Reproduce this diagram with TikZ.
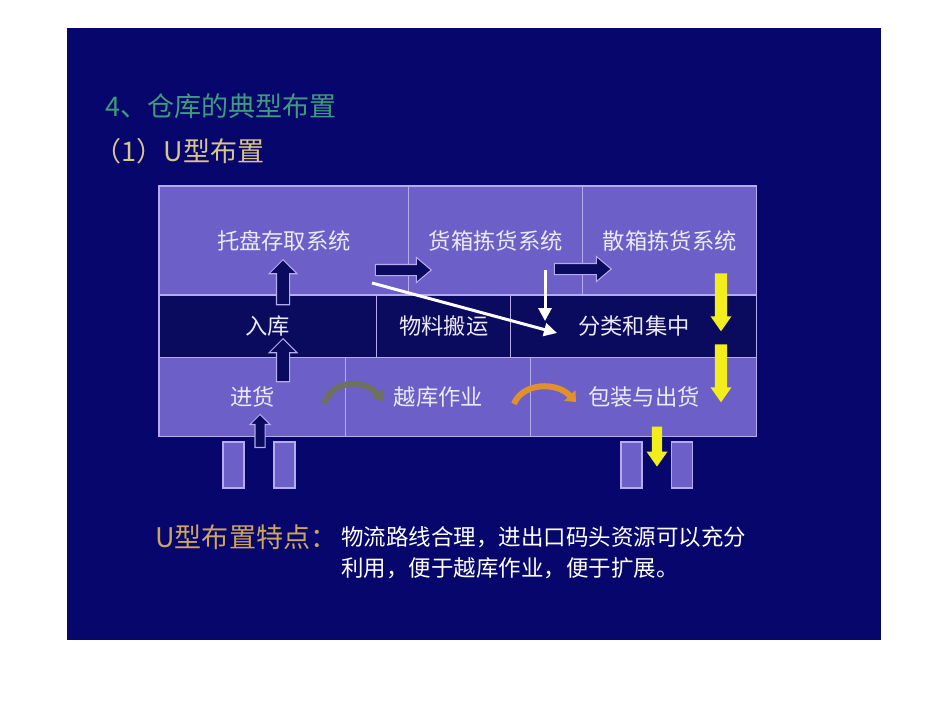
\documentclass[tikz,border=0pt]{standalone}
\usepackage{fontspec}
\setmainfont{Noto Sans CJK SC}
\usetikzlibrary{arrows.meta, positioning, shapes.arrows}
\definecolor{slide}{HTML}{06066C}
\definecolor{cellfill}{HTML}{6C5FC8}
\definecolor{cellline}{HTML}{B4ACEC}
\definecolor{darkrow}{HTML}{0A0A5E}
\definecolor{celltext}{HTML}{ECEAF6}
\definecolor{titlegreen}{HTML}{3E9C7C}
\definecolor{titlegold}{HTML}{D8C48C}
\definecolor{notegold}{HTML}{CCA65A}
\definecolor{flowyellow}{HTML}{F2EE1E}
\definecolor{crossgrey}{HTML}{6E7060}
\definecolor{packorange}{HTML}{E0902E}

\begin{document}
\begin{tikzpicture}[x=0.02cm, y=-0.02cm, >=Stealth, semithick,
        cell/.style={draw=cellline, fill=cellfill, text=celltext, line width=0.6pt,
            inner sep=0pt, outer sep=0pt, font=\fontsize{12.7}{15}\selectfont},
        darkcell/.style={cell, fill=darkrow},
        dock/.style={cell, minimum width=0.42cm, minimum height=0.92cm},
        navyup/.style={single arrow, draw=cellline, fill=darkrow, line width=0.6pt,
            inner sep=0.12cm, single arrow head extend=0.15cm, rotate=90},
        navyright/.style={single arrow, draw=cellline, fill=darkrow, line width=0.6pt,
            inner sep=0.1cm, single arrow head extend=0.14cm, single arrow tip angle=80},
        yellowdown/.style={single arrow, fill=flowyellow, inner sep=0.11cm,
            single arrow head extend=0.09cm, single arrow tip angle=70, rotate=-90},
        whiteflow/.style={white, line width=0.06cm, -{Triangle[width=0.26cm, length=0.26cm]}},
        hop/.style={line width=0.12cm, -{Triangle[width=0.3cm, length=0.18cm]}}]
            \fill[white] (0,0) rectangle (950,713);
            \fill[slide] (67,28) rectangle (881,640);
            \node[anchor=west, text=titlegreen, font=\fontsize{15.4}{18}\selectfont] (title) at (99,106) {4、仓库的典型布置};
            \node[anchor=west, text=titlegold, font=\fontsize{15.4}{18}\selectfont] (subtitle) at (88,151) {（1）U型布置};
            \node[cell, minimum width=5cm, minimum height=2.18cm, anchor=north west] (pallet) at (159,186) {托盘存取系统};
            \node[cell, minimum width=3.48cm, minimum height=2.18cm, right=0pt of pallet] (casepick) {货箱拣货系统};
            \node[cell, minimum width=3.48cm, minimum height=2.18cm, right=0pt of casepick] (piecepick) {散箱拣货系统};
            \node[darkcell, minimum width=4.36cm, minimum height=1.26cm, below right=0pt and 0pt of pallet.south west] (putaway) {入库};
            \node[darkcell, minimum width=2.68cm, minimum height=1.26cm, right=0pt of putaway] (handling) {物料搬运};
            \node[darkcell, minimum width=4.92cm, minimum height=1.26cm, right=0pt of handling] (sorting) {分类和集中};
            \node[cell, minimum width=3.74cm, minimum height=1.58cm, below right=0pt and 0pt of putaway.south west] (receive) {进货};
            \node[cell, minimum width=3.7cm, minimum height=1.58cm, right=0pt of receive] (crossdock) {越库作业};
            \node[cell, minimum width=4.52cm, minimum height=1.58cm, right=0pt of crossdock] (ship) {包装与出货};
            \node[dock] (indockA) at (233.5,465) {};
            \node[dock] (indockB) at (284.5,465) {};
            \node[dock] (outdockA) at (631.5,465) {};
            \node[dock] (outdockB) at (682,465) {};
            \node[navyup, minimum height=0.9cm] (upA) at (283,285.5) {};
            \node[navyup, minimum height=0.86cm] (upB) at (283,363.5) {};
            \node[navyup, minimum height=0.66cm, inner sep=0.09cm, single arrow head extend=0.1cm] (upC) at (260,433.5) {};
            \node[navyright, minimum height=1.12cm] (rightA) at (400,270) {};
            \node[navyright, minimum height=1.14cm] (rightB) at (579.5,269) {};
            \node[yellowdown, minimum height=1.16cm] (downA) at (721,298) {};
            \node[yellowdown, minimum height=1.16cm] (downB) at (721,369) {};
            \node[yellowdown, minimum height=0.8cm, inner sep=0.09cm, single arrow head extend=0.11cm] (downC) at (657,443) {};
            \coordinate (diagfrom) at (372,283);
            \coordinate (diagto) at (557,333);
            \coordinate (dropfrom) at (545,270);
            \coordinate (dropto) at (545,321);
            \draw[whiteflow] (diagfrom) -- (diagto);
            \draw[whiteflow] (dropfrom) -- (dropto);
            \coordinate (crossfrom) at (324,404);
            \coordinate (crossto) at (383,401);
            \coordinate (packfrom) at (514,404);
            \coordinate (packto) at (576,402);
            \draw[hop, crossgrey] (crossfrom) .. controls (332,380) and (364,378) .. (crossto);
            \draw[hop, packorange] (packfrom) .. controls (522,383) and (556,381) .. (packto);
            \node[anchor=west, text=notegold, font=\fontsize{15.4}{18}\selectfont] (notehead) at (149,537) {U型布置特点：};
            \node[anchor=west, text=white, font=\fontsize{12.8}{15}\selectfont] (noteA) at (335,537) {物流路线合理，进出口码头资源可以充分};
            \node[anchor=west, text=white, font=\fontsize{12.8}{15}\selectfont] (noteB) at (335,568) {利用，便于越库作业，便于扩展。};
        \end{tikzpicture}
\end{document}
